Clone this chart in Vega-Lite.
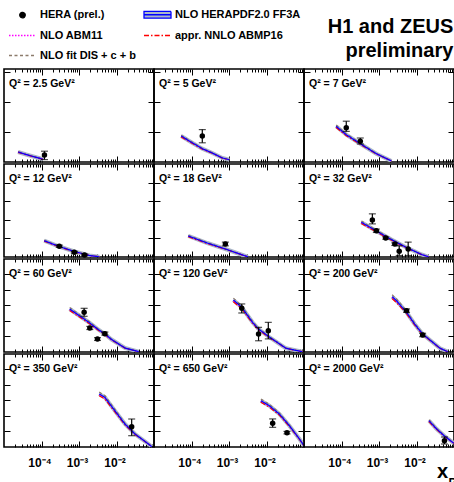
{
"$schema": "https://vega.github.io/schema/vega-lite/v6.json",
"padding": {"left": 2, "top": 0, "right": 0, "bottom": 0},
"background": "white",
"spacing": -4.6,
"config": {
  "view": {"stroke": "black", "strokeWidth": 1.6},
  "axis": {"domain": false, "grid": false, "tickColor": "black", "tickWidth": 1, "labelFont": "Liberation Sans", "titleFont": "Liberation Sans"},
  "title": {"anchor": "start", "offset": 0, "dx": 5, "dy": 25, "baseline": "alphabetic", "fontSize": 10.5, "fontWeight": "bold", "font": "Liberation Sans", "color": "black", "frame": "group"}
},
"datasets": {
"curves": [
{"q":"2.5","x":2.37e-5,"herapdf":0.00167,"abm11":0.00164,"abmp16":0.00161,"dis":0.00173},
{"q":"2.5","x":3.89e-5,"herapdf":0.00125,"abm11":0.00123,"abmp16":0.00121,"dis":0.00129},
{"q":"2.5","x":6.37e-5,"herapdf":0.00087,"abm11":0.00086,"abmp16":0.00084,"dis":0.0009},
{"q":"2.5","x":1.11e-4,"herapdf":0.00045,"abm11":0.00044,"abmp16":0.00043,"dis":0.00047},
{"q":"5","x":5.3e-5,"herapdf":0.00433,"abm11":0.00427,"abmp16":0.00418,"dis":0.00448},
{"q":"5","x":1.04e-4,"herapdf":0.00322,"abm11":0.00317,"abmp16":0.00311,"dis":0.00333},
{"q":"5","x":1.94e-4,"herapdf":0.00222,"abm11":0.00219,"abmp16":0.00214,"dis":0.0023},
{"q":"5","x":3.59e-4,"herapdf":0.0015,"abm11":0.00148,"abmp16":0.00145,"dis":0.00155},
{"q":"5","x":6.65e-4,"herapdf":0.00067,"abm11":0.00066,"abmp16":0.00065,"dis":0.00069},
{"q":"5","x":1.02e-3,"herapdf":0.00038,"abm11":0.00037,"abmp16":0.00037,"dis":0.00039},
{"q":"7","x":7.2e-5,"herapdf":0.00595,"abm11":0.00586,"abmp16":0.00574,"dis":0.00616},
{"q":"7","x":1.34e-4,"herapdf":0.00455,"abm11":0.00448,"abmp16":0.00439,"dis":0.00471},
{"q":"7","x":3.17e-4,"herapdf":0.00305,"abm11":0.003,"abmp16":0.00294,"dis":0.00316},
{"q":"7","x":8.5e-4,"herapdf":0.00138,"abm11":0.00136,"abmp16":0.00133,"dis":0.00143},
{"q":"7","x":2.15e-3,"herapdf":0.00017,"abm11":0.00017,"abmp16":0.00016,"dis":0.00018},
{"q":"12","x":1.18e-4,"herapdf":0.00438,"abm11":0.00431,"abmp16":0.00423,"dis":0.00453},
{"q":"12","x":2.98e-4,"herapdf":0.00282,"abm11":0.00278,"abmp16":0.00272,"dis":0.00292},
{"q":"12","x":7.5e-4,"herapdf":0.00148,"abm11":0.00146,"abmp16":0.00143,"dis":0.00153},
{"q":"12","x":1.9e-3,"herapdf":0.0004,"abm11":0.00039,"abmp16":0.00039,"dis":0.00041},
{"q":"12","x":3.5e-3,"herapdf":0.00005,"abm11":0.00005,"abmp16":0.00005,"dis":0.00005},
{"q":"18","x":8.2e-5,"herapdf":0.00565,"abm11":0.00557,"abmp16":0.00545,"dis":0.00585},
{"q":"18","x":2.64e-4,"herapdf":0.00376,"abm11":0.0037,"abmp16":0.00363,"dis":0.00389},
{"q":"18","x":8e-4,"herapdf":0.00215,"abm11":0.00212,"abmp16":0.00207,"dis":0.00223},
{"q":"18","x":2.29e-3,"herapdf":0.00054,"abm11":0.00053,"abmp16":0.00052,"dis":0.00056},
{"q":"18","x":3.2e-3,"herapdf":0.00005,"abm11":0.00005,"abmp16":0.00005,"dis":0.00005},
{"q":"32","x":3.38e-4,"herapdf":0.00933,"abm11":0.00919,"abmp16":0.009,"dis":0.00966},
{"q":"32","x":8.5e-4,"herapdf":0.00699,"abm11":0.00689,"abmp16":0.00675,"dis":0.00723},
{"q":"32","x":2.15e-3,"herapdf":0.0047,"abm11":0.00463,"abmp16":0.00454,"dis":0.00486},
{"q":"32","x":5.4e-3,"herapdf":0.00255,"abm11":0.00251,"abmp16":0.00246,"dis":0.00264},
{"q":"32","x":1.37e-2,"herapdf":0.00067,"abm11":0.00066,"abmp16":0.00065,"dis":0.00069},
{"q":"32","x":2.1e-2,"herapdf":0.00005,"abm11":0.00005,"abmp16":0.00005,"dis":0.00005},
{"q":"60","x":5.64e-4,"herapdf":0.01378,"abm11":0.01357,"abmp16":0.0133,"dis":0.01426},
{"q":"60","x":1.37e-3,"herapdf":0.01058,"abm11":0.01042,"abmp16":0.01021,"dis":0.01095},
{"q":"60","x":1.94e-3,"herapdf":0.0093,"abm11":0.00916,"abmp16":0.00897,"dis":0.00963},
{"q":"60","x":3.25e-3,"herapdf":0.00721,"abm11":0.0071,"abmp16":0.00696,"dis":0.00746},
{"q":"60","x":4.89e-3,"herapdf":0.00577,"abm11":0.00568,"abmp16":0.00557,"dis":0.00597},
{"q":"60","x":7.4e-3,"herapdf":0.004,"abm11":0.00394,"abmp16":0.00386,"dis":0.00414},
{"q":"60","x":0.0168,"herapdf":0.00128,"abm11":0.00126,"abmp16":0.00124,"dis":0.00132},
{"q":"60","x":0.039,"herapdf":0.0001,"abm11":0.0001,"abmp16":0.0001,"dis":0.0001},
{"q":"120","x":1.31e-3,"herapdf":0.01667,"abm11":0.01642,"abmp16":0.01609,"dis":0.01725},
{"q":"120","x":2.19e-3,"herapdf":0.01433,"abm11":0.01412,"abmp16":0.01383,"dis":0.01483},
{"q":"120","x":4.24e-3,"herapdf":0.00952,"abm11":0.00938,"abmp16":0.00919,"dis":0.00985},
{"q":"120","x":6.14e-3,"herapdf":0.00737,"abm11":0.00726,"abmp16":0.00711,"dis":0.00763},
{"q":"120","x":0.01117,"herapdf":0.00503,"abm11":0.00495,"abmp16":0.00485,"dis":0.00521},
{"q":"120","x":0.0331,"herapdf":0.00119,"abm11":0.00117,"abmp16":0.00115,"dis":0.00123},
{"q":"120","x":0.09,"herapdf":0.0001,"abm11":0.0001,"abmp16":0.0001,"dis":0.0001},
{"q":"200","x":2.24e-3,"herapdf":0.01772,"abm11":0.01745,"abmp16":0.0171,"dis":0.01834},
{"q":"200","x":2.93e-3,"herapdf":0.01644,"abm11":0.01619,"abmp16":0.01586,"dis":0.01702},
{"q":"200","x":5.43e-3,"herapdf":0.01272,"abm11":0.01253,"abmp16":0.01227,"dis":0.01317},
{"q":"200","x":8.9e-3,"herapdf":0.00897,"abm11":0.00884,"abmp16":0.00866,"dis":0.00928},
{"q":"200","x":0.01457,"herapdf":0.00577,"abm11":0.00568,"abmp16":0.00557,"dis":0.00597},
{"q":"200","x":0.0424,"herapdf":0.00119,"abm11":0.00117,"abmp16":0.00115,"dis":0.00123},
{"q":"200","x":0.068,"herapdf":0.0001,"abm11":0.0001,"abmp16":0.0001,"dis":0.0001},
{"q":"350","x":3.46e-3,"herapdf":0.01699,"abm11":0.01673,"abmp16":0.0164,"dis":0.01758},
{"q":"350","x":4.89e-3,"herapdf":0.01593,"abm11":0.01569,"abmp16":0.01537,"dis":0.01649},
{"q":"350","x":9.06e-3,"herapdf":0.01163,"abm11":0.01146,"abmp16":0.01122,"dis":0.01204},
{"q":"350","x":0.0168,"herapdf":0.00737,"abm11":0.00726,"abmp16":0.00711,"dis":0.00763},
{"q":"350","x":0.0311,"herapdf":0.00417,"abm11":0.00411,"abmp16":0.00402,"dis":0.00432},
{"q":"350","x":0.0712,"herapdf":0.00096,"abm11":0.00095,"abmp16":0.00093,"dis":0.00099},
{"q":"350","x":0.0873,"herapdf":0.0001,"abm11":0.0001,"abmp16":0.0001,"dis":0.0001},
{"q":"650","x":7.08e-3,"herapdf":0.01484,"abm11":0.01462,"abmp16":0.01432,"dis":0.01536},
{"q":"650","x":0.0119,"herapdf":0.01324,"abm11":0.01304,"abmp16":0.01278,"dis":0.0137},
{"q":"650","x":0.022,"herapdf":0.01058,"abm11":0.01042,"abmp16":0.01021,"dis":0.01095},
{"q":"650","x":0.0408,"herapdf":0.00683,"abm11":0.00673,"abmp16":0.00659,"dis":0.00707},
{"q":"650","x":0.0757,"herapdf":0.00256,"abm11":0.00252,"abmp16":0.00247,"dis":0.00265},
{"q":"650","x":0.1,"herapdf":0.0004,"abm11":0.0004,"abmp16":0.00039,"dis":0.00041},
{"q":"2000","x":0.0215,"herapdf":0.00843,"abm11":0.0083,"abmp16":0.00813,"dis":0.00873},
{"q":"2000","x":0.0346,"herapdf":0.00577,"abm11":0.00568,"abmp16":0.00557,"dis":0.00597},
{"q":"2000","x":0.0556,"herapdf":0.00353,"abm11":0.00348,"abmp16":0.00341,"dis":0.00365},
{"q":"2000","x":0.099,"herapdf":0.0012,"abm11":0.00118,"abmp16":0.00116,"dis":0.00124}
],
"points": [
{"q":"2.5","x":1.2e-4,"v":0.00117,"lo":0.0004,"hi":0.0018},
{"q":"5","x":1.94e-4,"v":0.00433,"lo":0.0032,"hi":0.0054},
{"q":"7","x":1.34e-4,"v":0.0057,"lo":0.0051,"hi":0.0068},
{"q":"7","x":3.17e-4,"v":0.00345,"lo":0.003,"hi":0.004},
{"q":"12","x":2.98e-4,"v":0.00288,"lo":0.0026,"hi":0.0032},
{"q":"12","x":7.5e-4,"v":0.00126,"lo":0.001,"hi":0.0015},
{"q":"12","x":1.4e-3,"v":0.00054,"lo":0.0003,"hi":0.0008},
{"q":"18","x":8e-4,"v":0.0035,"lo":0.003,"hi":0.004},
{"q":"32","x":6.65e-4,"v":0.00995,"lo":0.0089,"hi":0.0116},
{"q":"32","x":8.5e-4,"v":0.00707,"lo":0.0066,"hi":0.0075},
{"q":"32","x":1.51e-3,"v":0.00511,"lo":0.0048,"hi":0.0054},
{"q":"32","x":2.64e-3,"v":0.00349,"lo":0.0031,"hi":0.0038},
{"q":"32","x":3.46e-3,"v":0.00153,"lo":0.0004,"hi":0.003},
{"q":"32","x":6.0e-3,"v":0.00215,"lo":0.0004,"hi":0.004},
{"q":"60","x":1.37e-3,"v":0.01272,"lo":0.01144,"hi":0.014},
{"q":"60","x":1.94e-3,"v":0.00769,"lo":0.0072,"hi":0.0082},
{"q":"60","x":3.11e-3,"v":0.00417,"lo":0.0037,"hi":0.0046},
{"q":"60","x":4.89e-3,"v":0.00587,"lo":0.0054,"hi":0.0064},
{"q":"120","x":2.19e-3,"v":0.014,"lo":0.0125,"hi":0.0154},
{"q":"120","x":6.14e-3,"v":0.00577,"lo":0.0036,"hi":0.0079},
{"q":"120","x":0.01117,"v":0.00683,"lo":0.0042,"hi":0.0095},
{"q":"200","x":5.43e-3,"v":0.01324,"lo":0.0127,"hi":0.0138},
{"q":"200","x":0.01457,"v":0.00545,"lo":0.0049,"hi":0.006},
{"q":"350","x":0.0254,"v":0.00651,"lo":0.00362,"hi":0.00897},
{"q":"650","x":0.0146,"v":0.0076,"lo":0.0063,"hi":0.009},
{"q":"650","x":0.0352,"v":0.00458,"lo":0.0042,"hi":0.005},
{"q":"2000","x":0.0556,"v":0.00202,"lo":0.00096,"hi":0.0032}
]
},
"vconcat": [
{"spacing": 0, "bounds": "flush",
 "title": {"text": ["H1 and ZEUS", "preliminary"], "anchor": "end", "dx": -2, "dy": 0, "fontSize": 20, "baseline": "bottom", "lineHeight": 24, "offset": -13, "frame": "bounds"},
 "hconcat": [
 {"width": 150, "height": 93, "title": {"text": "Q² = 2.5 GeV²"}, "resolve": {"axis": {"x": "independent", "y": "independent"}},
  "layer": [
   {"data": {"name": "curves"}, "transform": [{"filter": "datum.q == '2.5'"}], "mark": {"type": "line", "color": "#aab6c8", "strokeWidth": 4, "clip": true},
    "encoding": {"x": {"field": "x", "type": "quantitative", "scale": {"type": "log", "domain": [0.00001, 0.1], "nice": false}, "axis": {"orient": "bottom", "values": [2e-5,3e-5,4e-5,5e-5,6e-5,7e-5,8e-5,9e-5,1e-4,2e-4,3e-4,4e-4,5e-4,6e-4,7e-4,8e-4,9e-4,1e-3,2e-3,3e-3,4e-3,5e-3,6e-3,7e-3,8e-3,9e-3,1e-2,2e-2,3e-2,4e-2,5e-2,6e-2,7e-2,8e-2,9e-2], "labels": false, "title": null, "tickSize": {"condition": {"test": "datum.value == 0.0001 || datum.value == 0.001 || datum.value == 0.01", "value": -6}, "value": -3}}},
     "y": {"field": "herapdf", "type": "quantitative", "scale": {"domain": [0, 0.0155], "nice": false, "zero": false}, "axis": {"orient": "left", "values": [0.005, 0.01, 0.015], "labels": false, "title": null, "tickSize": -6}}}},
   {"data": {"name": "curves"}, "transform": [{"filter": "datum.q == '2.5'"}, {"fold": ["dis", "abm11", "abmp16", "herapdf"], "as": ["model", "val"]}], "mark": {"type": "line", "strokeWidth": 1.2, "clip": true},
    "encoding": {"x": {"field": "x", "type": "quantitative", "axis": {"orient": "top", "values": [2e-5,3e-5,4e-5,5e-5,6e-5,7e-5,8e-5,9e-5,1e-4,2e-4,3e-4,4e-4,5e-4,6e-4,7e-4,8e-4,9e-4,1e-3,2e-3,3e-3,4e-3,5e-3,6e-3,7e-3,8e-3,9e-3,1e-2,2e-2,3e-2,4e-2,5e-2,6e-2,7e-2,8e-2,9e-2], "labels": false, "title": null, "tickSize": {"condition": {"test": "datum.value == 0.0001 || datum.value == 0.001 || datum.value == 0.01", "value": -6}, "value": -3}}},
     "y": {"field": "val", "type": "quantitative", "axis": {"orient": "right", "values": [0.005, 0.01, 0.015], "labels": false, "title": null, "tickSize": -6}},
     "color": {"field": "model", "type": "nominal", "scale": {"domain": ["hera", "herapdf", "abm11", "abmp16", "dis"], "range": ["black", "#0000ff", "#ff00ff", "#ff0000", "#8c7b6b"]},
      "legend": {"orient": "none", "legendX": 4, "legendY": -69, "columns": 2, "direction": "horizontal", "title": null, "padding": 0, "symbolSize": 729, "symbolType": "stroke", "symbolStrokeWidth": 1.3, "labelFont": "Liberation Sans", "labelFontSize": 11, "labelFontWeight": "bold", "labelColor": "black", "labelOffset": 3, "labelLimit": 300, "rowPadding": -1, "columnPadding": 5,
       "labelExpr": "datum.value == 'hera' ? 'HERA (prel.)' : datum.value == 'herapdf' ? 'NLO HERAPDF2.0 FF3A' : datum.value == 'abm11' ? 'NLO ABM11' : datum.value == 'abmp16' ? 'appr. NNLO ABMP16' : 'NLO fit DIS + c + b'",
       "encode": {"symbols": {"update": {
         "shape": {"signal": "datum.value == 'hera' ? 'circle' : datum.value == 'herapdf' ? 'M-1,-0.25H1V0.25H-1ZM-1,0H1' : 'stroke'"},
         "size": {"signal": "datum.value == 'hera' ? 30 : 729"},
         "fill": {"signal": "datum.value == 'hera' ? 'black' : datum.value == 'herapdf' ? '#aab6c8' : 'transparent'"},
         "strokeDash": {"signal": "datum.value == 'abm11' ? [1.5, 1.5] : datum.value == 'abmp16' ? [5, 2, 1.5, 2] : datum.value == 'dis' ? [3, 2.5] : [1, 0]"}
       }}}}},
     "strokeDash": {"field": "model", "type": "nominal", "scale": {"domain": ["hera", "herapdf", "abm11", "abmp16", "dis"], "range": [[1, 0], [1, 0], [1.5, 1.5], [5, 2, 1.5, 2], [3, 2.5]]}, "legend": null}}},
   {"data": {"name": "points"}, "transform": [{"filter": "datum.q == '2.5'"}], "mark": {"type": "rule", "color": "black", "strokeWidth": 1.2},
    "encoding": {"x": {"field": "x", "type": "quantitative", "axis": null}, "y": {"field": "lo", "type": "quantitative", "axis": null}, "y2": {"field": "hi"}}},
   {"data": {"name": "points"}, "transform": [{"filter": "datum.q == '2.5'"}, {"fold": ["lo", "hi"], "as": ["end", "ev"]}], "mark": {"type": "tick", "orient": "horizontal", "color": "black", "size": 7, "thickness": 1.2},
    "encoding": {"x": {"field": "x", "type": "quantitative", "axis": null}, "y": {"field": "ev", "type": "quantitative", "axis": null}}},
   {"data": {"name": "points"}, "transform": [{"filter": "datum.q == '2.5'"}], "mark": {"type": "circle", "color": "black", "size": 30, "opacity": 1},
    "encoding": {"x": {"field": "x", "type": "quantitative", "axis": null}, "y": {"field": "v", "type": "quantitative", "axis": null}}}
  ]},
 {"width": 150, "height": 93, "title": {"text": "Q² = 5 GeV²"}, "resolve": {"axis": {"x": "independent", "y": "independent"}},
  "layer": [
   {"data": {"name": "curves"}, "transform": [{"filter": "datum.q == '5'"}], "mark": {"type": "line", "color": "#aab6c8", "strokeWidth": 4, "clip": true},
    "encoding": {"x": {"field": "x", "type": "quantitative", "scale": {"type": "log", "domain": [0.00001, 0.1], "nice": false}, "axis": {"orient": "bottom", "values": [2e-5,3e-5,4e-5,5e-5,6e-5,7e-5,8e-5,9e-5,1e-4,2e-4,3e-4,4e-4,5e-4,6e-4,7e-4,8e-4,9e-4,1e-3,2e-3,3e-3,4e-3,5e-3,6e-3,7e-3,8e-3,9e-3,1e-2,2e-2,3e-2,4e-2,5e-2,6e-2,7e-2,8e-2,9e-2], "labels": false, "title": null, "tickSize": {"condition": {"test": "datum.value == 0.0001 || datum.value == 0.001 || datum.value == 0.01", "value": -6}, "value": -3}}},
     "y": {"field": "herapdf", "type": "quantitative", "scale": {"domain": [0, 0.0155], "nice": false, "zero": false}, "axis": {"orient": "left", "values": [0.005, 0.01, 0.015], "labels": false, "title": null, "tickSize": -6}}}},
   {"data": {"name": "curves"}, "transform": [{"filter": "datum.q == '5'"}, {"fold": ["dis", "abm11", "abmp16", "herapdf"], "as": ["model", "val"]}], "mark": {"type": "line", "strokeWidth": 1.2, "clip": true},
    "encoding": {"x": {"field": "x", "type": "quantitative", "axis": {"orient": "top", "values": [2e-5,3e-5,4e-5,5e-5,6e-5,7e-5,8e-5,9e-5,1e-4,2e-4,3e-4,4e-4,5e-4,6e-4,7e-4,8e-4,9e-4,1e-3,2e-3,3e-3,4e-3,5e-3,6e-3,7e-3,8e-3,9e-3,1e-2,2e-2,3e-2,4e-2,5e-2,6e-2,7e-2,8e-2,9e-2], "labels": false, "title": null, "tickSize": {"condition": {"test": "datum.value == 0.0001 || datum.value == 0.001 || datum.value == 0.01", "value": -6}, "value": -3}}},
     "y": {"field": "val", "type": "quantitative", "axis": {"orient": "right", "values": [0.005, 0.01, 0.015], "labels": false, "title": null, "tickSize": -6}},
     "color": {"field": "model", "type": "nominal", "scale": {"domain": ["hera", "herapdf", "abm11", "abmp16", "dis"], "range": ["black", "#0000ff", "#ff00ff", "#ff0000", "#8c7b6b"]}, "legend": null},
     "strokeDash": {"field": "model", "type": "nominal", "scale": {"domain": ["hera", "herapdf", "abm11", "abmp16", "dis"], "range": [[1, 0], [1, 0], [1.5, 1.5], [5, 2, 1.5, 2], [3, 2.5]]}, "legend": null}}},
   {"data": {"name": "points"}, "transform": [{"filter": "datum.q == '5'"}], "mark": {"type": "rule", "color": "black", "strokeWidth": 1.2},
    "encoding": {"x": {"field": "x", "type": "quantitative", "axis": null}, "y": {"field": "lo", "type": "quantitative", "axis": null}, "y2": {"field": "hi"}}},
   {"data": {"name": "points"}, "transform": [{"filter": "datum.q == '5'"}, {"fold": ["lo", "hi"], "as": ["end", "ev"]}], "mark": {"type": "tick", "orient": "horizontal", "color": "black", "size": 7, "thickness": 1.2},
    "encoding": {"x": {"field": "x", "type": "quantitative", "axis": null}, "y": {"field": "ev", "type": "quantitative", "axis": null}}},
   {"data": {"name": "points"}, "transform": [{"filter": "datum.q == '5'"}], "mark": {"type": "circle", "color": "black", "size": 30, "opacity": 1},
    "encoding": {"x": {"field": "x", "type": "quantitative", "axis": null}, "y": {"field": "v", "type": "quantitative", "axis": null}}}
  ]},
 {"width": 150, "height": 93, "title": {"text": "Q² = 7 GeV²"}, "resolve": {"axis": {"x": "independent", "y": "independent"}},
  "layer": [
   {"data": {"name": "curves"}, "transform": [{"filter": "datum.q == '7'"}], "mark": {"type": "line", "color": "#aab6c8", "strokeWidth": 4, "clip": true},
    "encoding": {"x": {"field": "x", "type": "quantitative", "scale": {"type": "log", "domain": [0.00001, 0.1], "nice": false}, "axis": {"orient": "bottom", "values": [2e-5,3e-5,4e-5,5e-5,6e-5,7e-5,8e-5,9e-5,1e-4,2e-4,3e-4,4e-4,5e-4,6e-4,7e-4,8e-4,9e-4,1e-3,2e-3,3e-3,4e-3,5e-3,6e-3,7e-3,8e-3,9e-3,1e-2,2e-2,3e-2,4e-2,5e-2,6e-2,7e-2,8e-2,9e-2], "labels": false, "title": null, "tickSize": {"condition": {"test": "datum.value == 0.0001 || datum.value == 0.001 || datum.value == 0.01", "value": -6}, "value": -3}}},
     "y": {"field": "herapdf", "type": "quantitative", "scale": {"domain": [0, 0.0155], "nice": false, "zero": false}, "axis": {"orient": "left", "values": [0.005, 0.01, 0.015], "labels": false, "title": null, "tickSize": -6}}}},
   {"data": {"name": "curves"}, "transform": [{"filter": "datum.q == '7'"}, {"fold": ["dis", "abm11", "abmp16", "herapdf"], "as": ["model", "val"]}], "mark": {"type": "line", "strokeWidth": 1.2, "clip": true},
    "encoding": {"x": {"field": "x", "type": "quantitative", "axis": {"orient": "top", "values": [2e-5,3e-5,4e-5,5e-5,6e-5,7e-5,8e-5,9e-5,1e-4,2e-4,3e-4,4e-4,5e-4,6e-4,7e-4,8e-4,9e-4,1e-3,2e-3,3e-3,4e-3,5e-3,6e-3,7e-3,8e-3,9e-3,1e-2,2e-2,3e-2,4e-2,5e-2,6e-2,7e-2,8e-2,9e-2], "labels": false, "title": null, "tickSize": {"condition": {"test": "datum.value == 0.0001 || datum.value == 0.001 || datum.value == 0.01", "value": -6}, "value": -3}}},
     "y": {"field": "val", "type": "quantitative", "axis": {"orient": "right", "values": [0.005, 0.01, 0.015], "labels": false, "title": null, "tickSize": -6}},
     "color": {"field": "model", "type": "nominal", "scale": {"domain": ["hera", "herapdf", "abm11", "abmp16", "dis"], "range": ["black", "#0000ff", "#ff00ff", "#ff0000", "#8c7b6b"]}, "legend": null},
     "strokeDash": {"field": "model", "type": "nominal", "scale": {"domain": ["hera", "herapdf", "abm11", "abmp16", "dis"], "range": [[1, 0], [1, 0], [1.5, 1.5], [5, 2, 1.5, 2], [3, 2.5]]}, "legend": null}}},
   {"data": {"name": "points"}, "transform": [{"filter": "datum.q == '7'"}], "mark": {"type": "rule", "color": "black", "strokeWidth": 1.2},
    "encoding": {"x": {"field": "x", "type": "quantitative", "axis": null}, "y": {"field": "lo", "type": "quantitative", "axis": null}, "y2": {"field": "hi"}}},
   {"data": {"name": "points"}, "transform": [{"filter": "datum.q == '7'"}, {"fold": ["lo", "hi"], "as": ["end", "ev"]}], "mark": {"type": "tick", "orient": "horizontal", "color": "black", "size": 7, "thickness": 1.2},
    "encoding": {"x": {"field": "x", "type": "quantitative", "axis": null}, "y": {"field": "ev", "type": "quantitative", "axis": null}}},
   {"data": {"name": "points"}, "transform": [{"filter": "datum.q == '7'"}], "mark": {"type": "circle", "color": "black", "size": 30, "opacity": 1},
    "encoding": {"x": {"field": "x", "type": "quantitative", "axis": null}, "y": {"field": "v", "type": "quantitative", "axis": null}}}
  ]}
 ]},
{"spacing": 0, "bounds": "flush",
 "hconcat": [
 {"width": 150, "height": 93, "title": {"text": "Q² = 12 GeV²"}, "resolve": {"axis": {"x": "independent", "y": "independent"}},
  "layer": [
   {"data": {"name": "curves"}, "transform": [{"filter": "datum.q == '12'"}], "mark": {"type": "line", "color": "#aab6c8", "strokeWidth": 4, "clip": true},
    "encoding": {"x": {"field": "x", "type": "quantitative", "scale": {"type": "log", "domain": [0.00001, 0.1], "nice": false}, "axis": {"orient": "bottom", "values": [2e-5,3e-5,4e-5,5e-5,6e-5,7e-5,8e-5,9e-5,1e-4,2e-4,3e-4,4e-4,5e-4,6e-4,7e-4,8e-4,9e-4,1e-3,2e-3,3e-3,4e-3,5e-3,6e-3,7e-3,8e-3,9e-3,1e-2,2e-2,3e-2,4e-2,5e-2,6e-2,7e-2,8e-2,9e-2], "labels": false, "title": null, "tickSize": {"condition": {"test": "datum.value == 0.0001 || datum.value == 0.001 || datum.value == 0.01", "value": -6}, "value": -3}}},
     "y": {"field": "herapdf", "type": "quantitative", "scale": {"domain": [0, 0.025], "nice": false, "zero": false}, "axis": {"orient": "left", "values": [0.005, 0.01, 0.015, 0.02], "labels": false, "title": null, "tickSize": -6}}}},
   {"data": {"name": "curves"}, "transform": [{"filter": "datum.q == '12'"}, {"fold": ["dis", "abm11", "abmp16", "herapdf"], "as": ["model", "val"]}], "mark": {"type": "line", "strokeWidth": 1.2, "clip": true},
    "encoding": {"x": {"field": "x", "type": "quantitative", "axis": {"orient": "top", "values": [2e-5,3e-5,4e-5,5e-5,6e-5,7e-5,8e-5,9e-5,1e-4,2e-4,3e-4,4e-4,5e-4,6e-4,7e-4,8e-4,9e-4,1e-3,2e-3,3e-3,4e-3,5e-3,6e-3,7e-3,8e-3,9e-3,1e-2,2e-2,3e-2,4e-2,5e-2,6e-2,7e-2,8e-2,9e-2], "labels": false, "title": null, "tickSize": {"condition": {"test": "datum.value == 0.0001 || datum.value == 0.001 || datum.value == 0.01", "value": -6}, "value": -3}}},
     "y": {"field": "val", "type": "quantitative", "axis": {"orient": "right", "values": [0.005, 0.01, 0.015, 0.02], "labels": false, "title": null, "tickSize": -6}},
     "color": {"field": "model", "type": "nominal", "scale": {"domain": ["hera", "herapdf", "abm11", "abmp16", "dis"], "range": ["black", "#0000ff", "#ff00ff", "#ff0000", "#8c7b6b"]}, "legend": null},
     "strokeDash": {"field": "model", "type": "nominal", "scale": {"domain": ["hera", "herapdf", "abm11", "abmp16", "dis"], "range": [[1, 0], [1, 0], [1.5, 1.5], [5, 2, 1.5, 2], [3, 2.5]]}, "legend": null}}},
   {"data": {"name": "points"}, "transform": [{"filter": "datum.q == '12'"}], "mark": {"type": "rule", "color": "black", "strokeWidth": 1.2},
    "encoding": {"x": {"field": "x", "type": "quantitative", "axis": null}, "y": {"field": "lo", "type": "quantitative", "axis": null}, "y2": {"field": "hi"}}},
   {"data": {"name": "points"}, "transform": [{"filter": "datum.q == '12'"}, {"fold": ["lo", "hi"], "as": ["end", "ev"]}], "mark": {"type": "tick", "orient": "horizontal", "color": "black", "size": 7, "thickness": 1.2},
    "encoding": {"x": {"field": "x", "type": "quantitative", "axis": null}, "y": {"field": "ev", "type": "quantitative", "axis": null}}},
   {"data": {"name": "points"}, "transform": [{"filter": "datum.q == '12'"}], "mark": {"type": "circle", "color": "black", "size": 30, "opacity": 1},
    "encoding": {"x": {"field": "x", "type": "quantitative", "axis": null}, "y": {"field": "v", "type": "quantitative", "axis": null}}}
  ]},
 {"width": 150, "height": 93, "title": {"text": "Q² = 18 GeV²"}, "resolve": {"axis": {"x": "independent", "y": "independent"}},
  "layer": [
   {"data": {"name": "curves"}, "transform": [{"filter": "datum.q == '18'"}], "mark": {"type": "line", "color": "#aab6c8", "strokeWidth": 4, "clip": true},
    "encoding": {"x": {"field": "x", "type": "quantitative", "scale": {"type": "log", "domain": [0.00001, 0.1], "nice": false}, "axis": {"orient": "bottom", "values": [2e-5,3e-5,4e-5,5e-5,6e-5,7e-5,8e-5,9e-5,1e-4,2e-4,3e-4,4e-4,5e-4,6e-4,7e-4,8e-4,9e-4,1e-3,2e-3,3e-3,4e-3,5e-3,6e-3,7e-3,8e-3,9e-3,1e-2,2e-2,3e-2,4e-2,5e-2,6e-2,7e-2,8e-2,9e-2], "labels": false, "title": null, "tickSize": {"condition": {"test": "datum.value == 0.0001 || datum.value == 0.001 || datum.value == 0.01", "value": -6}, "value": -3}}},
     "y": {"field": "herapdf", "type": "quantitative", "scale": {"domain": [0, 0.025], "nice": false, "zero": false}, "axis": {"orient": "left", "values": [0.005, 0.01, 0.015, 0.02], "labels": false, "title": null, "tickSize": -6}}}},
   {"data": {"name": "curves"}, "transform": [{"filter": "datum.q == '18'"}, {"fold": ["dis", "abm11", "abmp16", "herapdf"], "as": ["model", "val"]}], "mark": {"type": "line", "strokeWidth": 1.2, "clip": true},
    "encoding": {"x": {"field": "x", "type": "quantitative", "axis": {"orient": "top", "values": [2e-5,3e-5,4e-5,5e-5,6e-5,7e-5,8e-5,9e-5,1e-4,2e-4,3e-4,4e-4,5e-4,6e-4,7e-4,8e-4,9e-4,1e-3,2e-3,3e-3,4e-3,5e-3,6e-3,7e-3,8e-3,9e-3,1e-2,2e-2,3e-2,4e-2,5e-2,6e-2,7e-2,8e-2,9e-2], "labels": false, "title": null, "tickSize": {"condition": {"test": "datum.value == 0.0001 || datum.value == 0.001 || datum.value == 0.01", "value": -6}, "value": -3}}},
     "y": {"field": "val", "type": "quantitative", "axis": {"orient": "right", "values": [0.005, 0.01, 0.015, 0.02], "labels": false, "title": null, "tickSize": -6}},
     "color": {"field": "model", "type": "nominal", "scale": {"domain": ["hera", "herapdf", "abm11", "abmp16", "dis"], "range": ["black", "#0000ff", "#ff00ff", "#ff0000", "#8c7b6b"]}, "legend": null},
     "strokeDash": {"field": "model", "type": "nominal", "scale": {"domain": ["hera", "herapdf", "abm11", "abmp16", "dis"], "range": [[1, 0], [1, 0], [1.5, 1.5], [5, 2, 1.5, 2], [3, 2.5]]}, "legend": null}}},
   {"data": {"name": "points"}, "transform": [{"filter": "datum.q == '18'"}], "mark": {"type": "rule", "color": "black", "strokeWidth": 1.2},
    "encoding": {"x": {"field": "x", "type": "quantitative", "axis": null}, "y": {"field": "lo", "type": "quantitative", "axis": null}, "y2": {"field": "hi"}}},
   {"data": {"name": "points"}, "transform": [{"filter": "datum.q == '18'"}, {"fold": ["lo", "hi"], "as": ["end", "ev"]}], "mark": {"type": "tick", "orient": "horizontal", "color": "black", "size": 7, "thickness": 1.2},
    "encoding": {"x": {"field": "x", "type": "quantitative", "axis": null}, "y": {"field": "ev", "type": "quantitative", "axis": null}}},
   {"data": {"name": "points"}, "transform": [{"filter": "datum.q == '18'"}], "mark": {"type": "circle", "color": "black", "size": 30, "opacity": 1},
    "encoding": {"x": {"field": "x", "type": "quantitative", "axis": null}, "y": {"field": "v", "type": "quantitative", "axis": null}}}
  ]},
 {"width": 150, "height": 93, "title": {"text": "Q² = 32 GeV²"}, "resolve": {"axis": {"x": "independent", "y": "independent"}},
  "layer": [
   {"data": {"name": "curves"}, "transform": [{"filter": "datum.q == '32'"}], "mark": {"type": "line", "color": "#aab6c8", "strokeWidth": 4, "clip": true},
    "encoding": {"x": {"field": "x", "type": "quantitative", "scale": {"type": "log", "domain": [0.00001, 0.1], "nice": false}, "axis": {"orient": "bottom", "values": [2e-5,3e-5,4e-5,5e-5,6e-5,7e-5,8e-5,9e-5,1e-4,2e-4,3e-4,4e-4,5e-4,6e-4,7e-4,8e-4,9e-4,1e-3,2e-3,3e-3,4e-3,5e-3,6e-3,7e-3,8e-3,9e-3,1e-2,2e-2,3e-2,4e-2,5e-2,6e-2,7e-2,8e-2,9e-2], "labels": false, "title": null, "tickSize": {"condition": {"test": "datum.value == 0.0001 || datum.value == 0.001 || datum.value == 0.01", "value": -6}, "value": -3}}},
     "y": {"field": "herapdf", "type": "quantitative", "scale": {"domain": [0, 0.025], "nice": false, "zero": false}, "axis": {"orient": "left", "values": [0.005, 0.01, 0.015, 0.02], "labels": false, "title": null, "tickSize": -6}}}},
   {"data": {"name": "curves"}, "transform": [{"filter": "datum.q == '32'"}, {"fold": ["dis", "abm11", "abmp16", "herapdf"], "as": ["model", "val"]}], "mark": {"type": "line", "strokeWidth": 1.2, "clip": true},
    "encoding": {"x": {"field": "x", "type": "quantitative", "axis": {"orient": "top", "values": [2e-5,3e-5,4e-5,5e-5,6e-5,7e-5,8e-5,9e-5,1e-4,2e-4,3e-4,4e-4,5e-4,6e-4,7e-4,8e-4,9e-4,1e-3,2e-3,3e-3,4e-3,5e-3,6e-3,7e-3,8e-3,9e-3,1e-2,2e-2,3e-2,4e-2,5e-2,6e-2,7e-2,8e-2,9e-2], "labels": false, "title": null, "tickSize": {"condition": {"test": "datum.value == 0.0001 || datum.value == 0.001 || datum.value == 0.01", "value": -6}, "value": -3}}},
     "y": {"field": "val", "type": "quantitative", "axis": {"orient": "right", "values": [0.005, 0.01, 0.015, 0.02], "labels": false, "title": null, "tickSize": -6}},
     "color": {"field": "model", "type": "nominal", "scale": {"domain": ["hera", "herapdf", "abm11", "abmp16", "dis"], "range": ["black", "#0000ff", "#ff00ff", "#ff0000", "#8c7b6b"]}, "legend": null},
     "strokeDash": {"field": "model", "type": "nominal", "scale": {"domain": ["hera", "herapdf", "abm11", "abmp16", "dis"], "range": [[1, 0], [1, 0], [1.5, 1.5], [5, 2, 1.5, 2], [3, 2.5]]}, "legend": null}}},
   {"data": {"name": "points"}, "transform": [{"filter": "datum.q == '32'"}], "mark": {"type": "rule", "color": "black", "strokeWidth": 1.2},
    "encoding": {"x": {"field": "x", "type": "quantitative", "axis": null}, "y": {"field": "lo", "type": "quantitative", "axis": null}, "y2": {"field": "hi"}}},
   {"data": {"name": "points"}, "transform": [{"filter": "datum.q == '32'"}, {"fold": ["lo", "hi"], "as": ["end", "ev"]}], "mark": {"type": "tick", "orient": "horizontal", "color": "black", "size": 7, "thickness": 1.2},
    "encoding": {"x": {"field": "x", "type": "quantitative", "axis": null}, "y": {"field": "ev", "type": "quantitative", "axis": null}}},
   {"data": {"name": "points"}, "transform": [{"filter": "datum.q == '32'"}], "mark": {"type": "circle", "color": "black", "size": 30, "opacity": 1},
    "encoding": {"x": {"field": "x", "type": "quantitative", "axis": null}, "y": {"field": "v", "type": "quantitative", "axis": null}}}
  ]}
 ]},
{"spacing": 0, "bounds": "flush",
 "hconcat": [
 {"width": 150, "height": 93, "title": {"text": "Q² = 60 GeV²"}, "resolve": {"axis": {"x": "independent", "y": "independent"}},
  "layer": [
   {"data": {"name": "curves"}, "transform": [{"filter": "datum.q == '60'"}], "mark": {"type": "line", "color": "#aab6c8", "strokeWidth": 4, "clip": true},
    "encoding": {"x": {"field": "x", "type": "quantitative", "scale": {"type": "log", "domain": [0.00001, 0.1], "nice": false}, "axis": {"orient": "bottom", "values": [2e-5,3e-5,4e-5,5e-5,6e-5,7e-5,8e-5,9e-5,1e-4,2e-4,3e-4,4e-4,5e-4,6e-4,7e-4,8e-4,9e-4,1e-3,2e-3,3e-3,4e-3,5e-3,6e-3,7e-3,8e-3,9e-3,1e-2,2e-2,3e-2,4e-2,5e-2,6e-2,7e-2,8e-2,9e-2], "labels": false, "title": null, "tickSize": {"condition": {"test": "datum.value == 0.0001 || datum.value == 0.001 || datum.value == 0.01", "value": -6}, "value": -3}}},
     "y": {"field": "herapdf", "type": "quantitative", "scale": {"domain": [0, 0.0298], "nice": false, "zero": false}, "axis": {"orient": "left", "values": [0.005, 0.01, 0.015, 0.02, 0.025], "labels": false, "title": null, "tickSize": -6}}}},
   {"data": {"name": "curves"}, "transform": [{"filter": "datum.q == '60'"}, {"fold": ["dis", "abm11", "abmp16", "herapdf"], "as": ["model", "val"]}], "mark": {"type": "line", "strokeWidth": 1.2, "clip": true},
    "encoding": {"x": {"field": "x", "type": "quantitative", "axis": {"orient": "top", "values": [2e-5,3e-5,4e-5,5e-5,6e-5,7e-5,8e-5,9e-5,1e-4,2e-4,3e-4,4e-4,5e-4,6e-4,7e-4,8e-4,9e-4,1e-3,2e-3,3e-3,4e-3,5e-3,6e-3,7e-3,8e-3,9e-3,1e-2,2e-2,3e-2,4e-2,5e-2,6e-2,7e-2,8e-2,9e-2], "labels": false, "title": null, "tickSize": {"condition": {"test": "datum.value == 0.0001 || datum.value == 0.001 || datum.value == 0.01", "value": -6}, "value": -3}}},
     "y": {"field": "val", "type": "quantitative", "axis": {"orient": "right", "values": [0.005, 0.01, 0.015, 0.02, 0.025], "labels": false, "title": null, "tickSize": -6}},
     "color": {"field": "model", "type": "nominal", "scale": {"domain": ["hera", "herapdf", "abm11", "abmp16", "dis"], "range": ["black", "#0000ff", "#ff00ff", "#ff0000", "#8c7b6b"]}, "legend": null},
     "strokeDash": {"field": "model", "type": "nominal", "scale": {"domain": ["hera", "herapdf", "abm11", "abmp16", "dis"], "range": [[1, 0], [1, 0], [1.5, 1.5], [5, 2, 1.5, 2], [3, 2.5]]}, "legend": null}}},
   {"data": {"name": "points"}, "transform": [{"filter": "datum.q == '60'"}], "mark": {"type": "rule", "color": "black", "strokeWidth": 1.2},
    "encoding": {"x": {"field": "x", "type": "quantitative", "axis": null}, "y": {"field": "lo", "type": "quantitative", "axis": null}, "y2": {"field": "hi"}}},
   {"data": {"name": "points"}, "transform": [{"filter": "datum.q == '60'"}, {"fold": ["lo", "hi"], "as": ["end", "ev"]}], "mark": {"type": "tick", "orient": "horizontal", "color": "black", "size": 7, "thickness": 1.2},
    "encoding": {"x": {"field": "x", "type": "quantitative", "axis": null}, "y": {"field": "ev", "type": "quantitative", "axis": null}}},
   {"data": {"name": "points"}, "transform": [{"filter": "datum.q == '60'"}], "mark": {"type": "circle", "color": "black", "size": 30, "opacity": 1},
    "encoding": {"x": {"field": "x", "type": "quantitative", "axis": null}, "y": {"field": "v", "type": "quantitative", "axis": null}}}
  ]},
 {"width": 150, "height": 93, "title": {"text": "Q² = 120 GeV²"}, "resolve": {"axis": {"x": "independent", "y": "independent"}},
  "layer": [
   {"data": {"name": "curves"}, "transform": [{"filter": "datum.q == '120'"}], "mark": {"type": "line", "color": "#aab6c8", "strokeWidth": 4, "clip": true},
    "encoding": {"x": {"field": "x", "type": "quantitative", "scale": {"type": "log", "domain": [0.00001, 0.1], "nice": false}, "axis": {"orient": "bottom", "values": [2e-5,3e-5,4e-5,5e-5,6e-5,7e-5,8e-5,9e-5,1e-4,2e-4,3e-4,4e-4,5e-4,6e-4,7e-4,8e-4,9e-4,1e-3,2e-3,3e-3,4e-3,5e-3,6e-3,7e-3,8e-3,9e-3,1e-2,2e-2,3e-2,4e-2,5e-2,6e-2,7e-2,8e-2,9e-2], "labels": false, "title": null, "tickSize": {"condition": {"test": "datum.value == 0.0001 || datum.value == 0.001 || datum.value == 0.01", "value": -6}, "value": -3}}},
     "y": {"field": "herapdf", "type": "quantitative", "scale": {"domain": [0, 0.0298], "nice": false, "zero": false}, "axis": {"orient": "left", "values": [0.005, 0.01, 0.015, 0.02, 0.025], "labels": false, "title": null, "tickSize": -6}}}},
   {"data": {"name": "curves"}, "transform": [{"filter": "datum.q == '120'"}, {"fold": ["dis", "abm11", "abmp16", "herapdf"], "as": ["model", "val"]}], "mark": {"type": "line", "strokeWidth": 1.2, "clip": true},
    "encoding": {"x": {"field": "x", "type": "quantitative", "axis": {"orient": "top", "values": [2e-5,3e-5,4e-5,5e-5,6e-5,7e-5,8e-5,9e-5,1e-4,2e-4,3e-4,4e-4,5e-4,6e-4,7e-4,8e-4,9e-4,1e-3,2e-3,3e-3,4e-3,5e-3,6e-3,7e-3,8e-3,9e-3,1e-2,2e-2,3e-2,4e-2,5e-2,6e-2,7e-2,8e-2,9e-2], "labels": false, "title": null, "tickSize": {"condition": {"test": "datum.value == 0.0001 || datum.value == 0.001 || datum.value == 0.01", "value": -6}, "value": -3}}},
     "y": {"field": "val", "type": "quantitative", "axis": {"orient": "right", "values": [0.005, 0.01, 0.015, 0.02, 0.025], "labels": false, "title": null, "tickSize": -6}},
     "color": {"field": "model", "type": "nominal", "scale": {"domain": ["hera", "herapdf", "abm11", "abmp16", "dis"], "range": ["black", "#0000ff", "#ff00ff", "#ff0000", "#8c7b6b"]}, "legend": null},
     "strokeDash": {"field": "model", "type": "nominal", "scale": {"domain": ["hera", "herapdf", "abm11", "abmp16", "dis"], "range": [[1, 0], [1, 0], [1.5, 1.5], [5, 2, 1.5, 2], [3, 2.5]]}, "legend": null}}},
   {"data": {"name": "points"}, "transform": [{"filter": "datum.q == '120'"}], "mark": {"type": "rule", "color": "black", "strokeWidth": 1.2},
    "encoding": {"x": {"field": "x", "type": "quantitative", "axis": null}, "y": {"field": "lo", "type": "quantitative", "axis": null}, "y2": {"field": "hi"}}},
   {"data": {"name": "points"}, "transform": [{"filter": "datum.q == '120'"}, {"fold": ["lo", "hi"], "as": ["end", "ev"]}], "mark": {"type": "tick", "orient": "horizontal", "color": "black", "size": 7, "thickness": 1.2},
    "encoding": {"x": {"field": "x", "type": "quantitative", "axis": null}, "y": {"field": "ev", "type": "quantitative", "axis": null}}},
   {"data": {"name": "points"}, "transform": [{"filter": "datum.q == '120'"}], "mark": {"type": "circle", "color": "black", "size": 30, "opacity": 1},
    "encoding": {"x": {"field": "x", "type": "quantitative", "axis": null}, "y": {"field": "v", "type": "quantitative", "axis": null}}}
  ]},
 {"width": 150, "height": 93, "title": {"text": "Q² = 200 GeV²"}, "resolve": {"axis": {"x": "independent", "y": "independent"}},
  "layer": [
   {"data": {"name": "curves"}, "transform": [{"filter": "datum.q == '200'"}], "mark": {"type": "line", "color": "#aab6c8", "strokeWidth": 4, "clip": true},
    "encoding": {"x": {"field": "x", "type": "quantitative", "scale": {"type": "log", "domain": [0.00001, 0.1], "nice": false}, "axis": {"orient": "bottom", "values": [2e-5,3e-5,4e-5,5e-5,6e-5,7e-5,8e-5,9e-5,1e-4,2e-4,3e-4,4e-4,5e-4,6e-4,7e-4,8e-4,9e-4,1e-3,2e-3,3e-3,4e-3,5e-3,6e-3,7e-3,8e-3,9e-3,1e-2,2e-2,3e-2,4e-2,5e-2,6e-2,7e-2,8e-2,9e-2], "labels": false, "title": null, "tickSize": {"condition": {"test": "datum.value == 0.0001 || datum.value == 0.001 || datum.value == 0.01", "value": -6}, "value": -3}}},
     "y": {"field": "herapdf", "type": "quantitative", "scale": {"domain": [0, 0.0298], "nice": false, "zero": false}, "axis": {"orient": "left", "values": [0.005, 0.01, 0.015, 0.02, 0.025], "labels": false, "title": null, "tickSize": -6}}}},
   {"data": {"name": "curves"}, "transform": [{"filter": "datum.q == '200'"}, {"fold": ["dis", "abm11", "abmp16", "herapdf"], "as": ["model", "val"]}], "mark": {"type": "line", "strokeWidth": 1.2, "clip": true},
    "encoding": {"x": {"field": "x", "type": "quantitative", "axis": {"orient": "top", "values": [2e-5,3e-5,4e-5,5e-5,6e-5,7e-5,8e-5,9e-5,1e-4,2e-4,3e-4,4e-4,5e-4,6e-4,7e-4,8e-4,9e-4,1e-3,2e-3,3e-3,4e-3,5e-3,6e-3,7e-3,8e-3,9e-3,1e-2,2e-2,3e-2,4e-2,5e-2,6e-2,7e-2,8e-2,9e-2], "labels": false, "title": null, "tickSize": {"condition": {"test": "datum.value == 0.0001 || datum.value == 0.001 || datum.value == 0.01", "value": -6}, "value": -3}}},
     "y": {"field": "val", "type": "quantitative", "axis": {"orient": "right", "values": [0.005, 0.01, 0.015, 0.02, 0.025], "labels": false, "title": null, "tickSize": -6}},
     "color": {"field": "model", "type": "nominal", "scale": {"domain": ["hera", "herapdf", "abm11", "abmp16", "dis"], "range": ["black", "#0000ff", "#ff00ff", "#ff0000", "#8c7b6b"]}, "legend": null},
     "strokeDash": {"field": "model", "type": "nominal", "scale": {"domain": ["hera", "herapdf", "abm11", "abmp16", "dis"], "range": [[1, 0], [1, 0], [1.5, 1.5], [5, 2, 1.5, 2], [3, 2.5]]}, "legend": null}}},
   {"data": {"name": "points"}, "transform": [{"filter": "datum.q == '200'"}], "mark": {"type": "rule", "color": "black", "strokeWidth": 1.2},
    "encoding": {"x": {"field": "x", "type": "quantitative", "axis": null}, "y": {"field": "lo", "type": "quantitative", "axis": null}, "y2": {"field": "hi"}}},
   {"data": {"name": "points"}, "transform": [{"filter": "datum.q == '200'"}, {"fold": ["lo", "hi"], "as": ["end", "ev"]}], "mark": {"type": "tick", "orient": "horizontal", "color": "black", "size": 7, "thickness": 1.2},
    "encoding": {"x": {"field": "x", "type": "quantitative", "axis": null}, "y": {"field": "ev", "type": "quantitative", "axis": null}}},
   {"data": {"name": "points"}, "transform": [{"filter": "datum.q == '200'"}], "mark": {"type": "circle", "color": "black", "size": 30, "opacity": 1},
    "encoding": {"x": {"field": "x", "type": "quantitative", "axis": null}, "y": {"field": "v", "type": "quantitative", "axis": null}}}
  ]}
 ]},
{"spacing": 0, "bounds": "flush",
 "hconcat": [
 {"width": 150, "height": 93, "title": {"text": "Q² = 350 GeV²"}, "resolve": {"axis": {"x": "independent", "y": "independent"}},
  "layer": [
   {"data": {"name": "curves"}, "transform": [{"filter": "datum.q == '350'"}], "mark": {"type": "line", "color": "#aab6c8", "strokeWidth": 4, "clip": true},
    "encoding": {"x": {"field": "x", "type": "quantitative", "scale": {"type": "log", "domain": [0.00001, 0.1], "nice": false}, "axis": {"orient": "bottom", "values": [2e-5,3e-5,4e-5,5e-5,6e-5,7e-5,8e-5,9e-5,1e-4,2e-4,3e-4,4e-4,5e-4,6e-4,7e-4,8e-4,9e-4,1e-3,2e-3,3e-3,4e-3,5e-3,6e-3,7e-3,8e-3,9e-3,1e-2,2e-2,3e-2,4e-2,5e-2,6e-2,7e-2,8e-2,9e-2], "labels": true, "labelExpr": "datum.value == 0.0001 ? '10⁻⁴' : datum.value == 0.001 ? '10⁻³' : datum.value == 0.01 ? '10⁻²' : ''", "labelFontSize": 12, "labelFontWeight": "bold", "labelColor": "black", "labelPadding": 16, "labelOffset": -2, "labelOverlap": false, "labelFlush": false, "labelBound": false, "title": null, "tickSize": {"condition": {"test": "datum.value == 0.0001 || datum.value == 0.001 || datum.value == 0.01", "value": -6}, "value": -3}}},
     "y": {"field": "herapdf", "type": "quantitative", "scale": {"domain": [0, 0.0298], "nice": false, "zero": false}, "axis": {"orient": "left", "values": [0.005, 0.01, 0.015, 0.02, 0.025], "labels": false, "title": null, "tickSize": -6}}}},
   {"data": {"name": "curves"}, "transform": [{"filter": "datum.q == '350'"}, {"fold": ["dis", "abm11", "abmp16", "herapdf"], "as": ["model", "val"]}], "mark": {"type": "line", "strokeWidth": 1.2, "clip": true},
    "encoding": {"x": {"field": "x", "type": "quantitative", "axis": {"orient": "top", "values": [2e-5,3e-5,4e-5,5e-5,6e-5,7e-5,8e-5,9e-5,1e-4,2e-4,3e-4,4e-4,5e-4,6e-4,7e-4,8e-4,9e-4,1e-3,2e-3,3e-3,4e-3,5e-3,6e-3,7e-3,8e-3,9e-3,1e-2,2e-2,3e-2,4e-2,5e-2,6e-2,7e-2,8e-2,9e-2], "labels": false, "title": null, "tickSize": {"condition": {"test": "datum.value == 0.0001 || datum.value == 0.001 || datum.value == 0.01", "value": -6}, "value": -3}}},
     "y": {"field": "val", "type": "quantitative", "axis": {"orient": "right", "values": [0.005, 0.01, 0.015, 0.02, 0.025], "labels": false, "title": null, "tickSize": -6}},
     "color": {"field": "model", "type": "nominal", "scale": {"domain": ["hera", "herapdf", "abm11", "abmp16", "dis"], "range": ["black", "#0000ff", "#ff00ff", "#ff0000", "#8c7b6b"]}, "legend": null},
     "strokeDash": {"field": "model", "type": "nominal", "scale": {"domain": ["hera", "herapdf", "abm11", "abmp16", "dis"], "range": [[1, 0], [1, 0], [1.5, 1.5], [5, 2, 1.5, 2], [3, 2.5]]}, "legend": null}}},
   {"data": {"name": "points"}, "transform": [{"filter": "datum.q == '350'"}], "mark": {"type": "rule", "color": "black", "strokeWidth": 1.2},
    "encoding": {"x": {"field": "x", "type": "quantitative", "axis": null}, "y": {"field": "lo", "type": "quantitative", "axis": null}, "y2": {"field": "hi"}}},
   {"data": {"name": "points"}, "transform": [{"filter": "datum.q == '350'"}, {"fold": ["lo", "hi"], "as": ["end", "ev"]}], "mark": {"type": "tick", "orient": "horizontal", "color": "black", "size": 7, "thickness": 1.2},
    "encoding": {"x": {"field": "x", "type": "quantitative", "axis": null}, "y": {"field": "ev", "type": "quantitative", "axis": null}}},
   {"data": {"name": "points"}, "transform": [{"filter": "datum.q == '350'"}], "mark": {"type": "circle", "color": "black", "size": 30, "opacity": 1},
    "encoding": {"x": {"field": "x", "type": "quantitative", "axis": null}, "y": {"field": "v", "type": "quantitative", "axis": null}}}
  ]},
 {"width": 150, "height": 93, "title": {"text": "Q² = 650 GeV²"}, "resolve": {"axis": {"x": "independent", "y": "independent"}},
  "layer": [
   {"data": {"name": "curves"}, "transform": [{"filter": "datum.q == '650'"}], "mark": {"type": "line", "color": "#aab6c8", "strokeWidth": 4, "clip": true},
    "encoding": {"x": {"field": "x", "type": "quantitative", "scale": {"type": "log", "domain": [0.00001, 0.1], "nice": false}, "axis": {"orient": "bottom", "values": [2e-5,3e-5,4e-5,5e-5,6e-5,7e-5,8e-5,9e-5,1e-4,2e-4,3e-4,4e-4,5e-4,6e-4,7e-4,8e-4,9e-4,1e-3,2e-3,3e-3,4e-3,5e-3,6e-3,7e-3,8e-3,9e-3,1e-2,2e-2,3e-2,4e-2,5e-2,6e-2,7e-2,8e-2,9e-2], "labels": true, "labelExpr": "datum.value == 0.0001 ? '10⁻⁴' : datum.value == 0.001 ? '10⁻³' : datum.value == 0.01 ? '10⁻²' : ''", "labelFontSize": 12, "labelFontWeight": "bold", "labelColor": "black", "labelPadding": 16, "labelOffset": -2, "labelOverlap": false, "labelFlush": false, "labelBound": false, "title": null, "tickSize": {"condition": {"test": "datum.value == 0.0001 || datum.value == 0.001 || datum.value == 0.01", "value": -6}, "value": -3}}},
     "y": {"field": "herapdf", "type": "quantitative", "scale": {"domain": [0, 0.0298], "nice": false, "zero": false}, "axis": {"orient": "left", "values": [0.005, 0.01, 0.015, 0.02, 0.025], "labels": false, "title": null, "tickSize": -6}}}},
   {"data": {"name": "curves"}, "transform": [{"filter": "datum.q == '650'"}, {"fold": ["dis", "abm11", "abmp16", "herapdf"], "as": ["model", "val"]}], "mark": {"type": "line", "strokeWidth": 1.2, "clip": true},
    "encoding": {"x": {"field": "x", "type": "quantitative", "axis": {"orient": "top", "values": [2e-5,3e-5,4e-5,5e-5,6e-5,7e-5,8e-5,9e-5,1e-4,2e-4,3e-4,4e-4,5e-4,6e-4,7e-4,8e-4,9e-4,1e-3,2e-3,3e-3,4e-3,5e-3,6e-3,7e-3,8e-3,9e-3,1e-2,2e-2,3e-2,4e-2,5e-2,6e-2,7e-2,8e-2,9e-2], "labels": false, "title": null, "tickSize": {"condition": {"test": "datum.value == 0.0001 || datum.value == 0.001 || datum.value == 0.01", "value": -6}, "value": -3}}},
     "y": {"field": "val", "type": "quantitative", "axis": {"orient": "right", "values": [0.005, 0.01, 0.015, 0.02, 0.025], "labels": false, "title": null, "tickSize": -6}},
     "color": {"field": "model", "type": "nominal", "scale": {"domain": ["hera", "herapdf", "abm11", "abmp16", "dis"], "range": ["black", "#0000ff", "#ff00ff", "#ff0000", "#8c7b6b"]}, "legend": null},
     "strokeDash": {"field": "model", "type": "nominal", "scale": {"domain": ["hera", "herapdf", "abm11", "abmp16", "dis"], "range": [[1, 0], [1, 0], [1.5, 1.5], [5, 2, 1.5, 2], [3, 2.5]]}, "legend": null}}},
   {"data": {"name": "points"}, "transform": [{"filter": "datum.q == '650'"}], "mark": {"type": "rule", "color": "black", "strokeWidth": 1.2},
    "encoding": {"x": {"field": "x", "type": "quantitative", "axis": null}, "y": {"field": "lo", "type": "quantitative", "axis": null}, "y2": {"field": "hi"}}},
   {"data": {"name": "points"}, "transform": [{"filter": "datum.q == '650'"}, {"fold": ["lo", "hi"], "as": ["end", "ev"]}], "mark": {"type": "tick", "orient": "horizontal", "color": "black", "size": 7, "thickness": 1.2},
    "encoding": {"x": {"field": "x", "type": "quantitative", "axis": null}, "y": {"field": "ev", "type": "quantitative", "axis": null}}},
   {"data": {"name": "points"}, "transform": [{"filter": "datum.q == '650'"}], "mark": {"type": "circle", "color": "black", "size": 30, "opacity": 1},
    "encoding": {"x": {"field": "x", "type": "quantitative", "axis": null}, "y": {"field": "v", "type": "quantitative", "axis": null}}}
  ]},
 {"width": 150, "height": 93, "title": {"text": "Q² = 2000 GeV²"}, "resolve": {"axis": {"x": "independent", "y": "independent"}},
  "layer": [
   {"data": {"name": "curves"}, "transform": [{"filter": "datum.q == '2000'"}], "mark": {"type": "line", "color": "#aab6c8", "strokeWidth": 4, "clip": true},
    "encoding": {"x": {"field": "x", "type": "quantitative", "scale": {"type": "log", "domain": [0.00001, 0.1], "nice": false}, "axis": {"orient": "bottom", "values": [2e-5,3e-5,4e-5,5e-5,6e-5,7e-5,8e-5,9e-5,1e-4,2e-4,3e-4,4e-4,5e-4,6e-4,7e-4,8e-4,9e-4,1e-3,2e-3,3e-3,4e-3,5e-3,6e-3,7e-3,8e-3,9e-3,1e-2,2e-2,3e-2,4e-2,5e-2,6e-2,7e-2,8e-2,9e-2], "labels": true, "labelExpr": "datum.value == 0.0001 ? '10⁻⁴' : datum.value == 0.001 ? '10⁻³' : datum.value == 0.01 ? '10⁻²' : ''", "labelFontSize": 12, "labelFontWeight": "bold", "labelColor": "black", "labelPadding": 16, "labelOffset": -2, "labelOverlap": false, "labelFlush": false, "labelBound": false, "title": "x", "titleFontSize": 20, "titleFontWeight": "bold", "titleColor": "black", "titleX": 138, "titleY": 30, "titleAlign": "center", "titleBaseline": "alphabetic", "tickSize": {"condition": {"test": "datum.value == 0.0001 || datum.value == 0.001 || datum.value == 0.01", "value": -6}, "value": -3}}},
     "y": {"field": "herapdf", "type": "quantitative", "scale": {"domain": [0, 0.0298], "nice": false, "zero": false}, "axis": {"orient": "left", "values": [0.005, 0.01, 0.015, 0.02, 0.025], "labels": false, "title": null, "tickSize": -6}}}},
   {"data": {"name": "curves"}, "transform": [{"filter": "datum.q == '2000'"}, {"fold": ["dis", "abm11", "abmp16", "herapdf"], "as": ["model", "val"]}], "mark": {"type": "line", "strokeWidth": 1.2, "clip": true},
    "encoding": {"x": {"field": "x", "type": "quantitative", "axis": {"orient": "top", "values": [2e-5,3e-5,4e-5,5e-5,6e-5,7e-5,8e-5,9e-5,1e-4,2e-4,3e-4,4e-4,5e-4,6e-4,7e-4,8e-4,9e-4,1e-3,2e-3,3e-3,4e-3,5e-3,6e-3,7e-3,8e-3,9e-3,1e-2,2e-2,3e-2,4e-2,5e-2,6e-2,7e-2,8e-2,9e-2], "labels": false, "title": null, "tickSize": {"condition": {"test": "datum.value == 0.0001 || datum.value == 0.001 || datum.value == 0.01", "value": -6}, "value": -3}}},
     "y": {"field": "val", "type": "quantitative", "axis": {"orient": "right", "values": [0.005, 0.01, 0.015, 0.02, 0.025], "labels": false, "title": null, "tickSize": -6}},
     "color": {"field": "model", "type": "nominal", "scale": {"domain": ["hera", "herapdf", "abm11", "abmp16", "dis"], "range": ["black", "#0000ff", "#ff00ff", "#ff0000", "#8c7b6b"]}, "legend": null},
     "strokeDash": {"field": "model", "type": "nominal", "scale": {"domain": ["hera", "herapdf", "abm11", "abmp16", "dis"], "range": [[1, 0], [1, 0], [1.5, 1.5], [5, 2, 1.5, 2], [3, 2.5]]}, "legend": null}}},
   {"data": {"name": "points"}, "transform": [{"filter": "datum.q == '2000'"}], "mark": {"type": "rule", "color": "black", "strokeWidth": 1.2},
    "encoding": {"x": {"field": "x", "type": "quantitative", "axis": null}, "y": {"field": "lo", "type": "quantitative", "axis": null}, "y2": {"field": "hi"}}},
   {"data": {"name": "points"}, "transform": [{"filter": "datum.q == '2000'"}, {"fold": ["lo", "hi"], "as": ["end", "ev"]}], "mark": {"type": "tick", "orient": "horizontal", "color": "black", "size": 7, "thickness": 1.2},
    "encoding": {"x": {"field": "x", "type": "quantitative", "axis": null}, "y": {"field": "ev", "type": "quantitative", "axis": null}}},
   {"data": {"name": "points"}, "transform": [{"filter": "datum.q == '2000'"}], "mark": {"type": "circle", "color": "black", "size": 30, "opacity": 1},
    "encoding": {"x": {"field": "x", "type": "quantitative", "axis": {"orient": "bottom", "ticks": false, "labels": false, "title": "Bj", "titleFontSize": 12, "titleFontWeight": "bold", "titleColor": "black", "titleX": 144, "titleY": 39, "titleAlign": "left", "titleBaseline": "alphabetic"}}, "y": {"field": "v", "type": "quantitative", "axis": null}}}
  ]}
 ]}
]
}
